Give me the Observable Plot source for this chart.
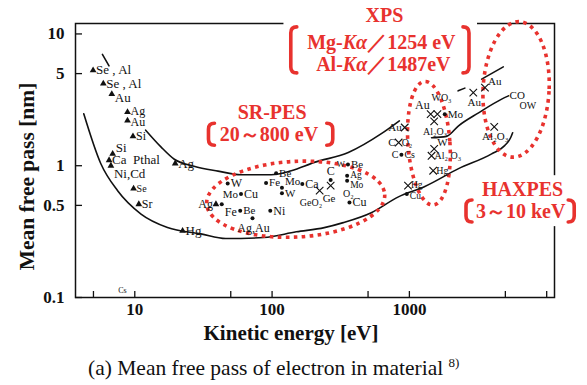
<!DOCTYPE html>
<html><head><meta charset="utf-8">
<script src="https://cdn.jsdelivr.net/npm/d3@7"></script>
<script src="https://cdn.jsdelivr.net/npm/@observablehq/plot@0.6"></script>
<style>
body{margin:0;background:#fff;width:587px;height:385px;overflow:hidden}
#chart svg, #chart svg text{font-family:"Liberation Serif","Times New Roman",serif !important}
#cap{font-family:"Liberation Serif","Times New Roman",serif;font-size:21.5px;margin-top:6px;padding-left:88px;line-height:24px;color:#111;white-space:nowrap}
#cap sup{font-size:13px;vertical-align:top;position:relative;top:-5px}
</style></head><body>
<div id="chart"></div>
<div id="cap">(a) Mean free pass of electron in material <sup>8)</sup></div>
<script>
// ---- axis ticks ----
const xTickLabels = [5, 10, 50, 100, 500, 1000, 5000];
const xTickMarks = [5, 10, 50, 100, 500, 1000, 5000, 10000];
const yTickLabels = [0.1, 0.5, 1, 5, 10];

// ---- curves (kinetic energy eV, mean free path nm) ----
const lowerE = [4.25, 5.65, 7.5, 11.1, 17.3, 30.3, 46, 87, 150, 240, 330, 528, 832, 1285, 2280, 3970, 4940, 5460, 5650];
const lowerV = [2.48, 1.04, 0.646, 0.43, 0.34, 0.304, 0.28, 0.285, 0.315, 0.339, 0.37, 0.44, 0.58, 0.693, 0.95, 1.23, 1.42, 1.63, 1.78];
const upperE = [12.0, 15.5, 19.4, 27, 40.4, 59.4, 98.4, 138, 203, 359, 625, 845];
const upperV = [1.86, 1.39, 1.12, 0.99, 0.91, 0.855, 0.855, 0.917, 1.06, 1.26, 1.75, 2.19];
const middleE = [1450, 1862, 2280, 3190, 4700, 5280];
const middleV = [1.63, 1.67, 2.01, 2.52, 3.20, 3.39];
const segId = ["a", "a", "b", "b", "c", "c"];
const segE = [5.81, 6.49, 2265, 2535, 3360, 4830];
const segV = [7.0, 5.72, 3.70, 3.88, 4.54, 5.62];

// ---- markers ----
const triE = [4.97, 5.9, 6.8, 8.85, 8.85, 9.7, 6.9, 6.5, 6.7, 19.7, 9.8, 10.7, 22.3, 39];
const triV = [5.3, 4.2, 3.5, 2.55, 2.2, 1.67, 1.23, 1.10, 1.0, 1.04, 0.67, 0.51, 0.32, 0.51];
const dotE = [43, 47.5, 59.4, 58.6, 72, 97, 107, 90.4, 118, 118, 166, 267, 357, 352, 352, 366, 875, 958, 1810];
const dotV = [0.51, 0.734, 0.61, 0.456, 0.40, 0.456, 0.875, 0.74, 0.68, 0.617, 0.727, 0.78, 1.02, 0.84, 0.77, 0.527, 1.21, 0.61, 2.46];
const crossE = [222, 267, 925, 835, 977, 1429, 1600, 1515, 1515, 1450, 1490, 2920, 3550, 4150];
const crossV = [0.646, 0.705, 1.95, 1.50, 0.705, 2.46, 2.46, 2.17, 1.34, 1.19, 0.916, 3.59, 3.92, 1.97];

// ---- point labels ----
const labelText = ["Se , Al","Se , Al","Au","Ag","Au","Si","Si","Ca  Pthal","Ni,Cd","Ag","Se","Sr","Hg","Ag",
  "Fe","W","Mo","Cu","Be","Ag,Au","Ni","Be","Fe","Mo","W","Ca","Ge","GeO₂","C","W","Be","Ag","Mo","O₂","Cu",
  "Au","C","O₂","C","Cs","Hg","Cu","Au","WO₃","Mo","Al₂O₃","W","Al₂ O₃","Hg",
  "Au","Au","Al₂O₃","CO","OW","Cs"];
const labelE = [4.97,5.9,6.8,8.85,8.85,9.7,6.9,6.5,6.7,19.7,9.8,10.7,22.3,39,
  43,47.5,59.4,59.4,58.6,72,97,107,90.4,118,118,166,222,192,267,357,357,352,352,360,366,
  925,835,835,875,875,977,958,1429,1714,1810,1515,1515,1450,1490,
  2920,3550,4150,5370,6350,8.13];
const labelV = [5.3,4.2,3.5,2.55,2.2,1.67,1.23,1.10,1.0,1.04,0.67,0.51,0.32,0.51,
  0.51,0.734,0.61,0.61,0.456,0.40,0.456,0.875,0.74,0.68,0.617,0.727,0.646,0.52,0.78,1.02,1.02,0.84,0.77,0.617,0.527,
  1.95,1.50,1.50,1.21,1.21,0.705,0.61,2.46,3.27,2.46,2.17,1.34,1.19,0.916,
  3.59,3.92,1.97,3.39,2.85,0.113];
// label placement relative to its point (style)
const labelSide = ["r","r","rl","ra","rs","r","ar","r","br","r","r","r","r","l",
  "br","r","l","r","r","b","r","r","r","ar","r","r","br","c","a","l","r","ra","rl","c","r",
  "l","l","r","l","r","ra","rs","al","c","r","b","ar","r","r",
  "b","ar","b","s","s","c"];
const labelSize = [13,13,13,12,12,12,13,13,13,13,10,12,13,12,
  12,12,11,12,11,12,12,11,11,11,11,12,11,10,12,9,11,9.5,9.5,10,12,
  11,11,10,10,10,9.5,9.5,12,10,11,10,11,10,10,
  11,11,11,11,10,8];

// ---- red annotations ----
const annoText = ["XPS", "Mg-Kα／1254 eV", "Al-Kα／1487eV", "SR-PES", "20～800 eV", "HAXPES", "3～10 keV"];
const annoE = [658, 625, 646, 100, 95, 6680, 6460];
const annoV = [13.7, 8.55, 5.87, 2.52, 1.72, 0.658, 0.449];
const bracketE = [138, 2740, 34.7, 279, 2606, 16000];
const bracketV = [7.5, 7.5, 1.72, 1.72, 0.449, 0.449];
const bracketSide = ["open", "close", "open", "close", "open", "close"];
const bracketPx = [46, 46, 22, 22, 22, 22];
const ellipseE1 = [33.6, 984, 3470];
const ellipseE2 = [668, 1990, 10500];
const ellipseV1 = [0.285, 0.498, 1.15];
const ellipseV2 = [1.07, 4.33, 12.3];
const ellipseTilt = [-3, -4, 3];
const coverE1 = [122, 2400], coverE2 = [3135, 18000], coverV1 = [4.72, 0.345], coverV2 = [16.9, 0.84];

const RED = "#e8322e";
const INK = "#111";
const pts = (E, V) => E.map((e, i) => ({E: e, v: V[i]}));
const lower = pts(lowerE, lowerV), upper = pts(upperE, upperV), middle = pts(middleE, middleV);
const segs = segE.map((e, i) => ({E: e, v: segV[i], id: segId[i]}));
const labels = labelText.map((t, i) => ({t, E: labelE[i], v: labelV[i], side: labelSide[i], size: labelSize[i]}));
const annos = annoText.map((t, i) => ({t, E: annoE[i], v: annoV[i]}));
const covers = coverE1.map((e, i) => ({E1: e, E2: coverE2[i], v1: coverV1[i], v2: coverV2[i]}));

const sides = {
  r: {dx: 3, dy: 0, textAnchor: "start"},
  ra: {dx: 3, dy: -1, textAnchor: "start"},
  rl: {dx: 3, dy: 4, textAnchor: "start"},
  rs: {dx: 3, dy: 2, textAnchor: "start"},
  l: {dx: -3, dy: 0, textAnchor: "end"},
  a: {dx: 0, dy: -9, textAnchor: "middle"},
  b: {dx: 1, dy: 10, textAnchor: "middle"},
  ar: {dx: 3, dy: -6, textAnchor: "start"},
  br: {dx: 3, dy: 8, textAnchor: "start"},
  al: {dx: -1, dy: -9, textAnchor: "end"},
  c: {dx: 0, dy: 0, textAnchor: "middle"},
  s: {dx: 0, dy: 0, textAnchor: "start"}
};
const labelMarks = Object.entries(sides).map(([k, o]) =>
  Plot.text(labels, {filter: d => d.side === k, x: "E", y: "v", text: "t", fontSize: "size", fill: INK, ...o}));

function ellipseMark(index, scales) {
  const g = d3.create("svg:g");
  ellipseE1.forEach((e1, i) => {
    const x1 = scales.x(e1), x2 = scales.x(ellipseE2[i]);
    const y1 = scales.y(ellipseV1[i]), y2 = scales.y(ellipseV2[i]);
    const cx = (x1 + x2) / 2, cy = (y1 + y2) / 2;
    g.append("ellipse").attr("cx", cx).attr("cy", cy)
      .attr("rx", Math.abs(x2 - x1) / 2).attr("ry", Math.abs(y2 - y1) / 2)
      .attr("transform", `rotate(${ellipseTilt[i]},${cx},${cy})`)
      .attr("fill", "none").attr("stroke", RED).attr("stroke-width", 3.6)
      .attr("stroke-dasharray", "3.6 4.4");
  });
  return g.node();
}
function bracketMark(index, scales) {
  const g = d3.create("svg:g");
  bracketE.forEach((e, i) => {
    const x = scales.x(e), y = scales.y(bracketV[i]), h = bracketPx[i] / 2;
    const s = bracketSide[i] === "open" ? 1 : -1, w = 6 * s;
    g.append("path")
      .attr("d", `M${x + w},${y - h} Q${x},${y - h} ${x},${y - h + 6} L${x},${y + h - 6} Q${x},${y + h} ${x + w},${y + h}`)
      .attr("fill", "none").attr("stroke", RED).attr("stroke-width", 3.6).attr("stroke-linecap", "round");
  });
  return g.node();
}

const plot = Plot.plot({
  width: 587, height: 350,
  marginLeft: 75, marginRight: 33, marginTop: 23, marginBottom: 53,
  x: {type: "log", domain: [3.7, 11400], axis: null},
  y: {type: "log", domain: [0.1, 12], axis: null},
  style: {background: "white", color: INK, overflow: "visible"},
  marks: [
    Plot.frame({stroke: INK, strokeWidth: 1.5}),
    Plot.rect(covers, {x1: "E1", x2: "E2", y1: "v1", y2: "v2", fill: "white"}),
    Plot.axisX({ticks: xTickMarks, tickSize: 6, dy: -6, tickFormat: () => "", label: null, strokeWidth: 1.3}),
    Plot.axisX({ticks: xTickLabels, tickSize: 0, tickPadding: 5, tickFormat: d => String(d), label: null, fontSize: 17, fontWeight: "bold"}),
    Plot.axisY({ticks: yTickLabels, tickSize: 7, dx: 7, tickFormat: () => "", label: null, strokeWidth: 1.3}),
    Plot.axisY({ticks: yTickLabels, tickSize: 0, tickPadding: 11, tickFormat: d => String(d), label: null, fontSize: 17, fontWeight: "bold"}),
    Plot.line(lower, {x: "E", y: "v", curve: "monotone-x", stroke: INK, strokeWidth: 1.6}),
    Plot.line(upper, {x: "E", y: "v", curve: "monotone-x", stroke: INK, strokeWidth: 1.6}),
    Plot.line(middle, {x: "E", y: "v", curve: "monotone-x", stroke: INK, strokeWidth: 1.6}),
    Plot.line(segs, {x: "E", y: "v", z: "id", stroke: INK, strokeWidth: 1.6}),
    ellipseMark,
    Plot.dot(pts(triE, triV), {x: "E", y: "v", symbol: "triangle", r: 2.5, fill: INK}),
    Plot.dot(pts(dotE, dotV), {x: "E", y: "v", symbol: "circle", r: 2, fill: INK}),
    Plot.dot(pts(crossE, crossV), {x: "E", y: "v", symbol: "times", r: 3.5, stroke: INK, strokeWidth: 1.1}),
    ...labelMarks,
    Plot.text(annos, {x: "E", y: "v", text: "t", fill: RED, fontSize: 20, fontWeight: "bold"}),
    bracketMark,
    Plot.text(["Mean free pass [nm]"], {frameAnchor: "left", dx: -48, dy: 16, rotate: -90, textAnchor: "middle", lineAnchor: "middle", fontSize: 21.5, fontWeight: "bold", fill: INK}),
    Plot.text(["Kinetic energy [eV]"], {frameAnchor: "bottom", dx: -24, dy: 36, textAnchor: "middle", lineAnchor: "middle", fontSize: 21, fontWeight: "bold", fill: INK})
  ]
});
document.getElementById("chart").appendChild(plot);
d3.select(plot).selectAll("text").each(function () {
  const t = this.textContent;
  if (t.includes("Kα") && this.children.length === 0) {
    const parts = t.split("Kα");
    this.textContent = "";
    const s = d3.select(this);
    s.append("tspan").text(parts[0]);
    s.append("tspan").attr("font-style", "italic").text("Kα");
    s.append("tspan").text(parts[1]);
  }
});
</script>
</body></html>
